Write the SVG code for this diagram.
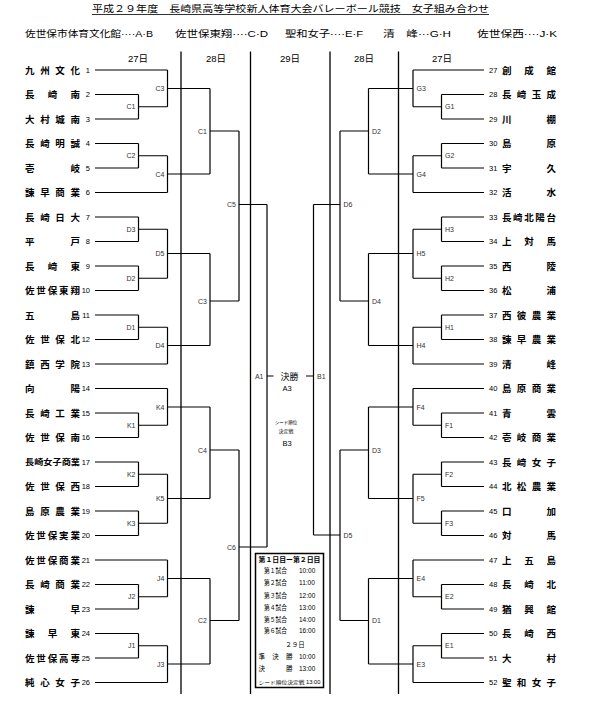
<svg xmlns="http://www.w3.org/2000/svg" width="589" height="707" viewBox="0 0 589 707">
<style>
.ln{stroke:#000;stroke-width:1.2;fill:none}
.dv{stroke:#000;stroke-width:1.3;fill:none}
.tn{font-family:"Noto Sans CJK JP",sans-serif;font-size:9.5px;font-weight:bold;fill:#000}
.num{font-family:"Liberation Sans",sans-serif;font-size:7.5px;fill:#000}
.lb{font-family:"Liberation Sans",sans-serif;font-size:7px;fill:#333}
.lbr{font-family:"Liberation Sans",sans-serif;font-size:7px;fill:#333}
.hd{font-family:"Liberation Sans","Noto Sans CJK JP",sans-serif;font-size:9.5px;fill:#000}
.sm{font-family:"Liberation Sans","Noto Sans CJK JP",sans-serif;font-size:6.5px;fill:#000}
</style>
<rect width="589" height="707" fill="#fff"/>

<g id="header">
<text class="hd" x="92" y="12" textLength="397" lengthAdjust="spacingAndGlyphs">平成２９年度　長崎県高等学校新人体育大会バレーボール競技　女子組み合わせ</text>
<line x1="92" y1="14.5" x2="489" y2="14.5" stroke="#000" stroke-width="0.8"/>
<text class="hd" x="25" y="37" textLength="128" lengthAdjust="spacingAndGlyphs">佐世保市体育文化館····A·B</text>
<text class="hd" x="175" y="37" textLength="93" lengthAdjust="spacingAndGlyphs">佐世保東翔····C·D</text>
<text class="hd" x="285" y="37" textLength="78" lengthAdjust="spacingAndGlyphs">聖和女子····E·F</text>
<text class="hd" x="383" y="37" textLength="68" lengthAdjust="spacingAndGlyphs">清　峰···G·H</text>
<text class="hd" x="477" y="37" textLength="80" lengthAdjust="spacingAndGlyphs">佐世保西····J·K</text>
<g text-anchor="middle">
<text class="hd" x="138" y="61.5">27日</text>
<text class="hd" x="216" y="61.5">28日</text>
<text class="hd" x="290" y="61.5">29日</text>
<text class="hd" x="364" y="61.5">28日</text>
<text class="hd" x="442" y="61.5">27日</text>
</g>
</g>

<g id="dividers">
<path class="dv" d="M181 51.5V694M250.5 51.5V694M330 51.5V694M398.5 51.5V694"/>
</g>

<g id="connectors">
<!-- left team lines -->
<path class="ln" d="M95 70H167.5M95 94.5H138.5M95 119H138.5M95 143.5H138.5M95 168H138.5M95 192.5H167.5M95 217H138.5M95 241.5H138.5M95 266H138.5M95 290.5H138.5M95 315H138.5M95 339.5H138.5M95 364H167.5M95 388.5H167.5M95 413H138.5M95 437.5H138.5M95 462H138.5M95 486.5H138.5M95 511H138.5M95 535.5H138.5M95 560H167.5M95 584.5H138.5M95 609H138.5M95 633.5H138.5M95 658H138.5M95 682.5H167.5"/>
<!-- left matches -->
<path class="ln" d="M138.5 94.5V119M138.5 106.75H167.5
M167.5 70V106.75M167.5 88.5H210
M138.5 143.5V168M138.5 155.75H167.5
M167.5 155.75V192.5M167.5 174H210
M210 88.5V174M210 131H239
M138.5 217V241.5M138.5 229.25H167.5
M138.5 266V290.5M138.5 278.25H167.5
M167.5 229.25V278.25M167.5 253.5H210
M138.5 315V339.5M138.5 327.25H167.5
M167.5 327.25V364M167.5 345.5H210
M210 253.5V345.5M210 301H239
M239 131V301M239 204.5H267
M138.5 413V437.5M138.5 425.25H167.5
M167.5 388.5V425.25M167.5 407H210
M138.5 462V486.5M138.5 474.25H167.5
M138.5 511V535.5M138.5 523.25H167.5
M167.5 474.25V523.25M167.5 498.5H210
M210 407V498.5M210 450H239
M138.5 584.5V609M138.5 596.75H167.5
M167.5 560V596.75M167.5 578.5H210
M138.5 633.5V658M138.5 645.75H167.5
M167.5 645.75V682.5M167.5 664H210
M210 578.5V664M210 620.5H239
M239 450V620.5M239 547H267
M267 204.5V547M267 376H273.5"/>
<!-- right team lines -->
<path class="ln" d="M484 70H413M484 94.5H441.5M484 119H441.5M484 143.5H441.5M484 168H441.5M484 192.5H413M484 217H441.5M484 241.5H441.5M484 266H441.5M484 290.5H441.5M484 315H441.5M484 339.5H441.5M484 364H413M484 388.5H413M484 413H441.5M484 437.5H441.5M484 462H441.5M484 486.5H441.5M484 511H441.5M484 535.5H441.5M484 560H413M484 584.5H441.5M484 609H441.5M484 633.5H441.5M484 658H441.5M484 682.5H413"/>
<!-- right matches -->
<path class="ln" d="M441.5 94.5V119M441.5 106.75H413
M413 70V106.75M413 88.5H368.5
M441.5 143.5V168M441.5 155.75H413
M413 155.75V192.5M413 174H368.5
M368.5 88.5V174M368.5 131H340
M441.5 217V241.5M441.5 229.25H413
M441.5 266V290.5M441.5 278.25H413
M413 229.25V278.25M413 253.5H368.5
M441.5 315V339.5M441.5 327.25H413
M413 327.25V364M413 345.5H368.5
M368.5 253.5V345.5M368.5 301H340
M340 131V301M340 204.5H313.5
M441.5 413V437.5M441.5 425.25H413
M413 388.5V425.25M413 407H368.5
M441.5 462V486.5M441.5 474.25H413
M441.5 511V535.5M441.5 523.25H413
M413 474.25V523.25M413 498.5H368.5
M368.5 407V498.5M368.5 450H340
M441.5 584.5V609M441.5 596.75H413
M413 560V596.75M413 578.5H368.5
M441.5 633.5V658M441.5 645.75H413
M413 645.75V682.5M413 664H368.5
M368.5 578.5V664M368.5 620.5H340
M340 450V620.5M340 535H313.5
M313.5 204.5V535M313.5 376H306"/>
</g>

<g id="teams-left">
<g id="t1"><text class="tn" x="25" y="73.5" textLength="55" lengthAdjust="spacing">九州文化</text><text class="num" x="90" y="72.7" text-anchor="end">1</text></g>
<g id="t2"><text class="tn" x="25" y="98" textLength="55" lengthAdjust="spacing">長崎南</text><text class="num" x="90" y="97.2" text-anchor="end">2</text></g>
<g id="t3"><text class="tn" x="25" y="122.5" textLength="55" lengthAdjust="spacing">大村城南</text><text class="num" x="90" y="121.7" text-anchor="end">3</text></g>
<g id="t4"><text class="tn" x="25" y="147" textLength="55" lengthAdjust="spacing">長崎明誠</text><text class="num" x="90" y="146.2" text-anchor="end">4</text></g>
<g id="t5"><text class="tn" x="25" y="171.5" textLength="55" lengthAdjust="spacing">壱岐</text><text class="num" x="90" y="170.7" text-anchor="end">5</text></g>
<g id="t6"><text class="tn" x="25" y="196" textLength="55" lengthAdjust="spacing">諫早商業</text><text class="num" x="90" y="195.2" text-anchor="end">6</text></g>
<g id="t7"><text class="tn" x="25" y="220.5" textLength="55" lengthAdjust="spacing">長崎日大</text><text class="num" x="90" y="219.7" text-anchor="end">7</text></g>
<g id="t8"><text class="tn" x="25" y="245" textLength="55" lengthAdjust="spacing">平戸</text><text class="num" x="90" y="244.2" text-anchor="end">8</text></g>
<g id="t9"><text class="tn" x="25" y="269.5" textLength="55" lengthAdjust="spacing">長崎東</text><text class="num" x="90" y="268.7" text-anchor="end">9</text></g>
<g id="t10"><text class="tn" x="25" y="294" textLength="55" lengthAdjust="spacing">佐世保東翔</text><text class="num" x="90" y="293.2" text-anchor="end">10</text></g>
<g id="t11"><text class="tn" x="25" y="318.5" textLength="55" lengthAdjust="spacing">五島</text><text class="num" x="90" y="317.7" text-anchor="end">11</text></g>
<g id="t12"><text class="tn" x="25" y="343" textLength="55" lengthAdjust="spacing">佐世保北</text><text class="num" x="90" y="342.2" text-anchor="end">12</text></g>
<g id="t13"><text class="tn" x="25" y="367.5" textLength="55" lengthAdjust="spacing">鎮西学院</text><text class="num" x="90" y="366.7" text-anchor="end">13</text></g>
<g id="t14"><text class="tn" x="25" y="392" textLength="55" lengthAdjust="spacing">向陽</text><text class="num" x="90" y="391.2" text-anchor="end">14</text></g>
<g id="t15"><text class="tn" x="25" y="416.5" textLength="55" lengthAdjust="spacing">長崎工業</text><text class="num" x="90" y="415.7" text-anchor="end">15</text></g>
<g id="t16"><text class="tn" x="25" y="441" textLength="55" lengthAdjust="spacing">佐世保南</text><text class="num" x="90" y="440.2" text-anchor="end">16</text></g>
<g id="t17"><text class="tn" x="25" y="465" textLength="55" lengthAdjust="spacingAndGlyphs" style="font-size:8px">長崎女子商業</text><text class="num" x="90" y="464.7" text-anchor="end">17</text></g>
<g id="t18"><text class="tn" x="25" y="490" textLength="55" lengthAdjust="spacing">佐世保西</text><text class="num" x="90" y="489.2" text-anchor="end">18</text></g>
<g id="t19"><text class="tn" x="25" y="514.5" textLength="55" lengthAdjust="spacing">島原農業</text><text class="num" x="90" y="513.7" text-anchor="end">19</text></g>
<g id="t20"><text class="tn" x="25" y="539" textLength="55" lengthAdjust="spacing">佐世保実業</text><text class="num" x="90" y="538.2" text-anchor="end">20</text></g>
<g id="t21"><text class="tn" x="25" y="563.5" textLength="55" lengthAdjust="spacing">佐世保商業</text><text class="num" x="90" y="562.7" text-anchor="end">21</text></g>
<g id="t22"><text class="tn" x="25" y="588" textLength="55" lengthAdjust="spacing">長崎商業</text><text class="num" x="90" y="587.2" text-anchor="end">22</text></g>
<g id="t23"><text class="tn" x="25" y="612.5" textLength="55" lengthAdjust="spacing">諫早</text><text class="num" x="90" y="611.7" text-anchor="end">23</text></g>
<g id="t24"><text class="tn" x="25" y="637" textLength="55" lengthAdjust="spacing">諫早東</text><text class="num" x="90" y="636.2" text-anchor="end">24</text></g>
<g id="t25"><text class="tn" x="25" y="661.5" textLength="55" lengthAdjust="spacing">佐世保高専</text><text class="num" x="90" y="660.7" text-anchor="end">25</text></g>
<g id="t26"><text class="tn" x="25" y="686" textLength="55" lengthAdjust="spacing">純心女子</text><text class="num" x="90" y="685.2" text-anchor="end">26</text></g>
</g>

<g id="teams-right">
<g id="t27"><text class="num" x="489" y="72.7">27</text><text class="tn" x="502" y="73.5" textLength="54" lengthAdjust="spacing">創成館</text></g>
<g id="t28"><text class="num" x="489" y="97.2">28</text><text class="tn" x="502" y="98" textLength="54" lengthAdjust="spacing">長崎玉成</text></g>
<g id="t29"><text class="num" x="489" y="121.7">29</text><text class="tn" x="502" y="122.5" textLength="54" lengthAdjust="spacing">川棚</text></g>
<g id="t30"><text class="num" x="489" y="146.2">30</text><text class="tn" x="502" y="147" textLength="54" lengthAdjust="spacing">島原</text></g>
<g id="t31"><text class="num" x="489" y="170.7">31</text><text class="tn" x="502" y="171.5" textLength="54" lengthAdjust="spacing">宇久</text></g>
<g id="t32"><text class="num" x="489" y="195.2">32</text><text class="tn" x="502" y="196" textLength="54" lengthAdjust="spacing">活水</text></g>
<g id="t33"><text class="num" x="489" y="219.7">33</text><text class="tn" x="502" y="220.5" textLength="54" lengthAdjust="spacing">長崎北陽台</text></g>
<g id="t34"><text class="num" x="489" y="244.2">34</text><text class="tn" x="502" y="245" textLength="54" lengthAdjust="spacing">上対馬</text></g>
<g id="t35"><text class="num" x="489" y="268.7">35</text><text class="tn" x="502" y="269.5" textLength="54" lengthAdjust="spacing">西陵</text></g>
<g id="t36"><text class="num" x="489" y="293.2">36</text><text class="tn" x="502" y="294" textLength="54" lengthAdjust="spacing">松浦</text></g>
<g id="t37"><text class="num" x="489" y="317.7">37</text><text class="tn" x="502" y="318.5" textLength="54" lengthAdjust="spacing">西彼農業</text></g>
<g id="t38"><text class="num" x="489" y="342.2">38</text><text class="tn" x="502" y="343" textLength="54" lengthAdjust="spacing">諫早農業</text></g>
<g id="t39"><text class="num" x="489" y="366.7">39</text><text class="tn" x="502" y="367.5" textLength="54" lengthAdjust="spacing">清峰</text></g>
<g id="t40"><text class="num" x="489" y="391.2">40</text><text class="tn" x="502" y="392" textLength="54" lengthAdjust="spacing">島原商業</text></g>
<g id="t41"><text class="num" x="489" y="415.7">41</text><text class="tn" x="502" y="416.5" textLength="54" lengthAdjust="spacing">青雲</text></g>
<g id="t42"><text class="num" x="489" y="440.2">42</text><text class="tn" x="502" y="441" textLength="54" lengthAdjust="spacing">壱岐商業</text></g>
<g id="t43"><text class="num" x="489" y="464.7">43</text><text class="tn" x="502" y="465.5" textLength="54" lengthAdjust="spacing">長崎女子</text></g>
<g id="t44"><text class="num" x="489" y="489.2">44</text><text class="tn" x="502" y="490" textLength="54" lengthAdjust="spacing">北松農業</text></g>
<g id="t45"><text class="num" x="489" y="513.7">45</text><text class="tn" x="502" y="514.5" textLength="54" lengthAdjust="spacing">口加</text></g>
<g id="t46"><text class="num" x="489" y="538.2">46</text><text class="tn" x="502" y="539" textLength="54" lengthAdjust="spacing">対馬</text></g>
<g id="t47"><text class="num" x="489" y="562.7">47</text><text class="tn" x="502" y="563.5" textLength="54" lengthAdjust="spacing">上五島</text></g>
<g id="t48"><text class="num" x="489" y="587.2">48</text><text class="tn" x="502" y="588" textLength="54" lengthAdjust="spacing">長崎北</text></g>
<g id="t49"><text class="num" x="489" y="611.7">49</text><text class="tn" x="502" y="612.5" textLength="54" lengthAdjust="spacing">猶興館</text></g>
<g id="t50"><text class="num" x="489" y="636.2">50</text><text class="tn" x="502" y="637" textLength="54" lengthAdjust="spacing">長崎西</text></g>
<g id="t51"><text class="num" x="489" y="660.7">51</text><text class="tn" x="502" y="661.5" textLength="54" lengthAdjust="spacing">大村</text></g>
<g id="t52"><text class="num" x="489" y="685.2">52</text><text class="tn" x="502" y="686" textLength="54" lengthAdjust="spacing">聖和女子</text></g>
</g>

<g id="matches-left" text-anchor="end">
<g id="mL-C1a"><text class="lb" x="135.5" y="109.2">C1</text></g>
<g id="mL-C3a"><text class="lb" x="164.5" y="91">C3</text></g>
<g id="mL-C2a"><text class="lb" x="135.5" y="158.2">C2</text></g>
<g id="mL-C4a"><text class="lb" x="164.5" y="176.5">C4</text></g>
<g id="mL-C1b"><text class="lb" x="207" y="133.5">C1</text></g>
<g id="mL-D3"><text class="lb" x="135.5" y="231.7">D3</text></g>
<g id="mL-D2"><text class="lb" x="135.5" y="280.7">D2</text></g>
<g id="mL-D5"><text class="lb" x="164.5" y="256">D5</text></g>
<g id="mL-D1"><text class="lb" x="135.5" y="329.7">D1</text></g>
<g id="mL-D4"><text class="lb" x="164.5" y="348">D4</text></g>
<g id="mL-C3b"><text class="lb" x="207" y="303.5">C3</text></g>
<g id="mL-C5"><text class="lb" x="236" y="207">C5</text></g>
<g id="mL-K1"><text class="lb" x="135.5" y="427.7">K1</text></g>
<g id="mL-K4"><text class="lb" x="164.5" y="409.5">K4</text></g>
<g id="mL-K2"><text class="lb" x="135.5" y="476.7">K2</text></g>
<g id="mL-K3"><text class="lb" x="135.5" y="525.7">K3</text></g>
<g id="mL-K5"><text class="lb" x="164.5" y="501">K5</text></g>
<g id="mL-C4b"><text class="lb" x="207" y="452.5">C4</text></g>
<g id="mL-J2"><text class="lb" x="135.5" y="599.2">J2</text></g>
<g id="mL-J4"><text class="lb" x="164.5" y="581">J4</text></g>
<g id="mL-J1"><text class="lb" x="135.5" y="648.2">J1</text></g>
<g id="mL-J3"><text class="lb" x="164.5" y="666.5">J3</text></g>
<g id="mL-C2b"><text class="lb" x="207" y="623">C2</text></g>
<g id="mL-C6"><text class="lb" x="236" y="549.5">C6</text></g>
<g id="mL-A1"><text class="lb" x="263.5" y="378.5">A1</text></g>
</g>

<g id="matches-right">
<g id="mR-G1"><text class="lbr" x="445" y="109.2">G1</text></g>
<g id="mR-G3"><text class="lbr" x="416.5" y="91">G3</text></g>
<g id="mR-G2"><text class="lbr" x="445" y="158.2">G2</text></g>
<g id="mR-G4"><text class="lbr" x="416.5" y="176.5">G4</text></g>
<g id="mR-D2"><text class="lbr" x="372" y="133.5">D2</text></g>
<g id="mR-H3"><text class="lbr" x="445" y="231.7">H3</text></g>
<g id="mR-H2"><text class="lbr" x="445" y="280.7">H2</text></g>
<g id="mR-H5"><text class="lbr" x="416.5" y="256">H5</text></g>
<g id="mR-H1"><text class="lbr" x="445" y="329.7">H1</text></g>
<g id="mR-H4"><text class="lbr" x="416.5" y="348">H4</text></g>
<g id="mR-D4"><text class="lbr" x="372" y="303.5">D4</text></g>
<g id="mR-D6"><text class="lbr" x="343.5" y="207">D6</text></g>
<g id="mR-F1"><text class="lbr" x="445" y="427.7">F1</text></g>
<g id="mR-F4"><text class="lbr" x="416.5" y="409.5">F4</text></g>
<g id="mR-F2"><text class="lbr" x="445" y="476.7">F2</text></g>
<g id="mR-F3"><text class="lbr" x="445" y="525.7">F3</text></g>
<g id="mR-F5"><text class="lbr" x="416.5" y="501">F5</text></g>
<g id="mR-D3"><text class="lbr" x="372" y="452.5">D3</text></g>
<g id="mR-E2"><text class="lbr" x="445" y="599.2">E2</text></g>
<g id="mR-E4"><text class="lbr" x="416.5" y="581">E4</text></g>
<g id="mR-E1"><text class="lbr" x="445" y="648.2">E1</text></g>
<g id="mR-E3"><text class="lbr" x="416.5" y="666.5">E3</text></g>
<g id="mR-D1"><text class="lbr" x="372" y="623">D1</text></g>
<g id="mR-D5"><text class="lbr" x="343.5" y="537.5">D5</text></g>
<g id="mR-B1"><text class="lbr" x="317" y="378.5">B1</text></g>
</g>

<g id="final" text-anchor="middle">
<text class="hd" x="289.5" y="379.5" style="font-size:9px">決勝</text>
<text class="num" x="287" y="390.5">A3</text>
<text class="sm" x="286" y="423.5" style="font-size:4.5px">シード順位</text>
<text class="sm" x="286" y="432.5" style="font-size:5px">決定戦</text>
<text class="num" x="287" y="445.5">B3</text>
</g>

<g id="schedule">
<rect x="255.5" y="553.5" width="68" height="134" fill="#fff" stroke="#000" stroke-width="1.5"/>
<text class="sm" x="258.5" y="561.5" textLength="62" lengthAdjust="spacingAndGlyphs" font-weight="bold">第１日目ー第２日目</text>
<text class="sm" x="264" y="573.3" textLength="23" lengthAdjust="spacingAndGlyphs">第１試合</text><text class="sm" x="299" y="573.3">10:00</text>
<text class="sm" x="264" y="585.3" textLength="23" lengthAdjust="spacingAndGlyphs">第２試合</text><text class="sm" x="299" y="585.3">11:00</text>
<text class="sm" x="264" y="597.5" textLength="23" lengthAdjust="spacingAndGlyphs">第３試合</text><text class="sm" x="299" y="597.5">12:00</text>
<text class="sm" x="264" y="609.5" textLength="23" lengthAdjust="spacingAndGlyphs">第４試合</text><text class="sm" x="299" y="609.5">13:00</text>
<text class="sm" x="264" y="621.5" textLength="23" lengthAdjust="spacingAndGlyphs">第５試合</text><text class="sm" x="299" y="621.5">14:00</text>
<text class="sm" x="264" y="633.3" textLength="23" lengthAdjust="spacingAndGlyphs">第６試合</text><text class="sm" x="299" y="633.3">16:00</text>
<text class="sm" x="295" y="646.7" text-anchor="middle">２９日</text>
<text class="sm" x="258.5" y="659" textLength="34" lengthAdjust="spacing">準決勝</text><text class="sm" x="299" y="659">10:00</text>
<text class="sm" x="258.5" y="671.3" textLength="34" lengthAdjust="spacing">決勝</text><text class="sm" x="299" y="671.3">13:00</text>
<text class="sm" x="258.5" y="683.5" textLength="62" lengthAdjust="spacingAndGlyphs" style="font-size:5px">シード順位決定戦 13:00</text>
</g>
</svg>
